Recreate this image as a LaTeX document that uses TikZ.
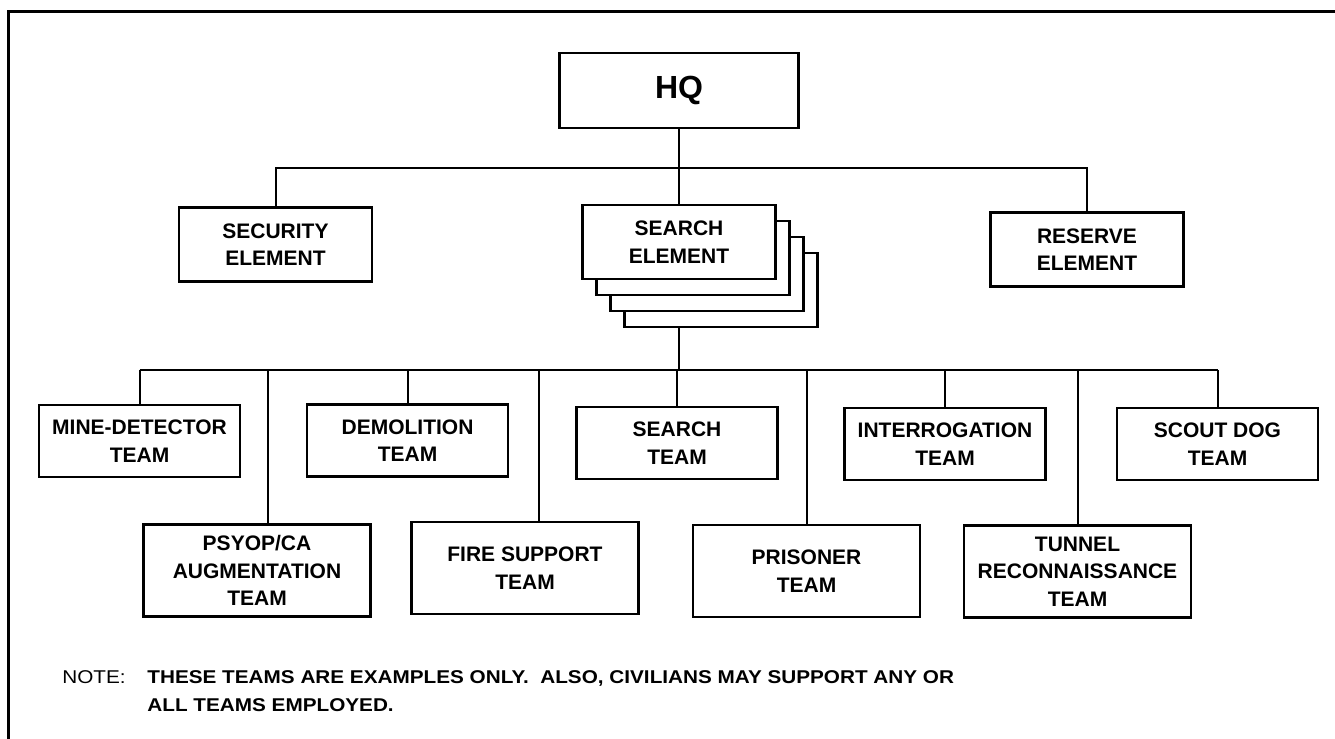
\documentclass[tikz,border=0pt]{standalone}
\usepackage{fontspec}
\setmainfont{Liberation Sans}
\newfontfamily\notefont{Liberation Sans}[FakeStretch=1.12]
\usepackage{tikz}

\begin{document}
\begin{tikzpicture}[x=0.5pt,y=-0.5pt,
    orgbox/.style={draw,line width=1.4pt,fill=white,align=center,inner sep=2pt,font=\bfseries\fontsize{10.5}{13.8}\selectfont},
    elembox/.style={orgbox,minimum width=96.5pt,minimum height=37pt},
    teambox/.style={orgbox,minimum width=100.5pt,minimum height=36pt},
    lowbox/.style={orgbox,minimum width=113.5pt,minimum height=46pt},
    link/.style={line width=1pt},
    notetext/.style={anchor=base west,inner sep=0pt,font=\notefont\fontsize{9.25}{11}\selectfont},
    notebold/.style={notetext,font=\notefont\bfseries\fontsize{9.25}{11}\selectfont}]

    \useasboundingbox (0,0) rectangle (1335,739);
    \draw[line width=1.5pt] (1335,11) -- (8,11) -- (8,739);

    % top level
    \node[orgbox,minimum width=119.5pt,minimum height=37.5pt,font=\bfseries\fontsize{16}{18}\selectfont] (hq) at (679,90.5) {HQ};
    \node[elembox] (security) at (275.5,244.5) {SECURITY\\ELEMENT};
    \node[elembox] (srch3) at (721,290) {};
    \node[elembox] (srch2) at (707,274) {};
    \node[elembox] (srch1) at (693,258) {};
    \node[elembox] (search) at (679,242) {SEARCH\\ELEMENT};
    \node[elembox] (reserve) at (1087,249.5) {RESERVE\\ELEMENT};

    \coordinate (split) at (679,168);
    \draw[link] (hq.south) -- (search.north);
    \draw[link] (security.north) |- (split) -| (reserve.north);

    % teams
    \node[teambox] (mine) at (139.5,441) {MINE-DETECTOR\\TEAM};
    \node[teambox] (demo) at (407.5,440.5) {DEMOLITION\\TEAM};
    \node[teambox] (steam) at (677,443) {SEARCH\\TEAM};
    \node[teambox] (interr) at (945,444) {INTERROGATION\\TEAM};
    \node[teambox] (scout) at (1217.5,444) {SCOUT DOG\\TEAM};
    \node[lowbox] (psyop) at (257,570.5) {PSYOP/CA\\AUGMENTATION\\TEAM};
    \node[lowbox] (fire) at (525,568) {FIRE SUPPORT\\TEAM};
    \node[lowbox] (prisoner) at (806.5,571) {PRISONER\\TEAM};
    \node[lowbox] (tunnel) at (1077.5,571.5) {TUNNEL\\RECONNAISSANCE\\TEAM};

    \coordinate (hub) at (679,370);
    \draw[link] (search.south |- srch3.south) -- (hub);
    \draw[link] (mine.north |- hub) -- (scout.north |- hub);
    \draw[link] (mine.north) -- (mine.north |- hub);
    \draw[link] ([xshift=5.5pt]psyop.north) -- ([xshift=5.5pt]psyop.north |- hub);
    \draw[link] (demo.north) -- (demo.north |- hub);
    \draw[link] ([xshift=7pt]fire.north) -- ([xshift=7pt]fire.north |- hub);
    \draw[link] (steam.north) -- (steam.north |- hub);
    \draw[link] (prisoner.north) -- (prisoner.north |- hub);
    \draw[link] (interr.north) -- (interr.north |- hub);
    \draw[link] (tunnel.north) -- (tunnel.north |- hub);
    \draw[link] (scout.north) -- (scout.north |- hub);

    % note
    \node[notetext] (notehead) at (62,683) {NOTE:};
    \node[notebold] (notea) at (147,683) {THESE TEAMS ARE EXAMPLES ONLY.\ \ ALSO, CIVILIANS MAY SUPPORT ANY OR};
    \node[notebold] (noteb) at (147,711) {ALL TEAMS EMPLOYED.};
\end{tikzpicture}
\end{document}
